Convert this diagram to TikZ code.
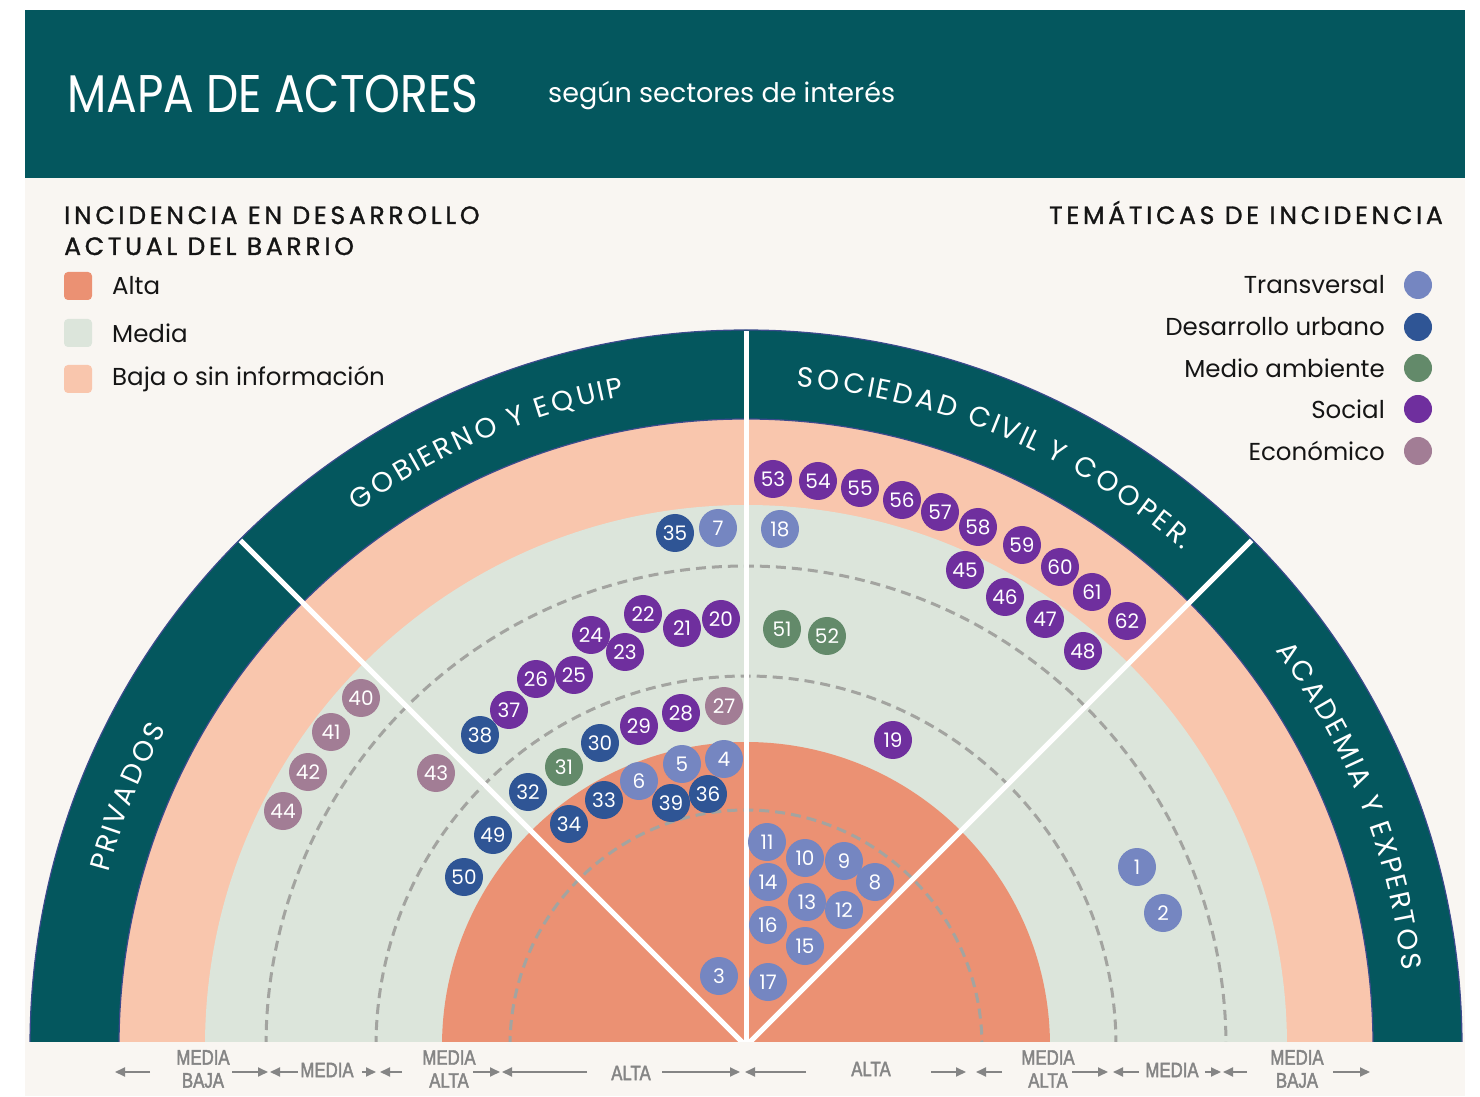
\documentclass[tikz,border=0pt]{standalone}
\usepackage{fontspec}
\setmainfont{Poppins}
\newfontfamily\axisfont[FakeStretch=0.8,FakeBold=2]{Liberation Sans}
\usetikzlibrary{arrows.meta,decorations.text}

\definecolor{headteal}{HTML}{04575E}
\definecolor{bandedge}{HTML}{3B4A8C}
\definecolor{cream}{HTML}{F9F6F2}
\definecolor{alta}{HTML}{EB9173}
\definecolor{media}{HTML}{DCE5DB}
\definecolor{baja}{HTML}{F9C6AD}
\definecolor{trcol}{HTML}{7586C1}
\definecolor{ducol}{HTML}{2F5595}
\definecolor{macol}{HTML}{638A6A}
\definecolor{socol}{HTML}{6F2F9E}
\definecolor{eccol}{HTML}{A27D95}
\definecolor{dashgrey}{HTML}{A3A4A0}
\definecolor{axisgrey}{HTML}{858585}
\definecolor{inkblack}{HTML}{151515}

\newcommand\legtitle{\fontsize{25}{25}\selectfont\addfontfeature{LetterSpace=15,FakeBold=1.2}}
\newcommand\sectorfont{\fontsize{28}{28}\selectfont}

\tikzset{
  actor/.style={circle, fill=#1, minimum size=38pt, inner sep=0pt, text=white,
    font=\fontsize{20}{20}\selectfont},
  ringdash/.style={draw=dashgrey, line width=3pt, dash pattern=on 10pt off 6pt},
  divider/.style={draw=white, line width=5pt},
  bandline/.style={draw=bandedge, line width=1.2pt},
  sectorname/.style={decorate, decoration={text effects along path, text={#1},
    text effects/.cd, text along path, fit text to path,
    characters={text=white, font=\sectorfont}}},
  axarrow/.style={draw=axisgrey, line width=1.8pt, -{Triangle[length=10pt,width=9pt]}},
  axlabel/.style={text=axisgrey, align=center, inner sep=0pt,
    font=\axisfont\fontsize{21}{23}\selectfont},
  legsq/.style={fill=#1, rounded corners=4pt, minimum size=28pt, inner sep=0pt},
  legdot/.style={circle, fill=#1, minimum size=28pt, inner sep=0pt},
  legtext/.style={text=inkblack, inner sep=0pt, font=\fontsize{24.5}{24.5}\selectfont},
}

\begin{document}
\begin{tikzpicture}[x=1pt,y=1pt]
  \useasboundingbox (0,0) rectangle (1480,1096);
  \fill[white] (0,0) rectangle (1480,1096);
  \fill[cream] (25,0) rectangle (1465,918);

  % header
  \fill[headteal] (25,918) rectangle (1465,1086);
  \node[anchor=base west, inner sep=0pt, text=white,
    font=\fontsize{53}{53}\selectfont\addfontfeature{FakeStretch=0.86}]
    (title) at (67,983) {MAPA DE ACTORES};
  \node[anchor=base west, inner sep=0pt, text=white, font=\fontsize{27}{27}\selectfont]
    (subtitle) at (548,993) {según sectores de interés};

  % legend: incidencia
  \node[anchor=base west, inner sep=0pt, text=inkblack, font=\legtitle] (legA) at (64,872) {INCIDENCIA EN DESARROLLO};
  \node[anchor=base west, inner sep=0pt, text=inkblack, font=\legtitle] (legB) at (64,841) {ACTUAL DEL BARRIO};
  \node[legsq=alta]  (sqAlta)  at (78,810) {};
  \node[legsq=media] (sqMedia) at (78,763) {};
  \node[legsq=baja]  (sqBaja)  at (78,717) {};
  \node[legtext, anchor=west] (txAlta)  at (112,810) {Alta};
  \node[legtext, anchor=west] (txMedia) at (112,763) {Media};
  \node[legtext, anchor=west] (txBaja)  at (112,717) {Baja o sin información};

  % legend: tematicas
  \node[anchor=base east, inner sep=0pt, text=inkblack, font=\legtitle] (legT) at (1443,872) {TEMÁTICAS DE INCIDENCIA};
  \foreach \k/\y/\t in {trcol/811/Transversal, ducol/769/Desarrollo urbano,
      macol/728/Medio ambiente, socol/687/Social, eccol/645/Económico} {
    \node[legdot=\k] (d\k) at (1418,\y) {};
    \node[legtext, anchor=east] (t\k) at (1385,\y) {\t};
  }

  % semicircle of sectors
  \coordinate (C) at (746,50);
  \begin{scope}
    \clip (25,55) rectangle (1465,918);
    \fill[headteal] ([shift={(180:716)}]C) arc[start angle=180, end angle=0, radius=716] -- cycle;
    \fill[baja]  ([shift={(180:627)}]C) arc[start angle=180, end angle=0, radius=627] -- cycle;
    \fill[media] ([shift={(180:541)}]C) arc[start angle=180, end angle=0, radius=541] -- cycle;
    \fill[alta]  ([shift={(180:304)}]C) arc[start angle=180, end angle=0, radius=304] -- cycle;
    \draw[bandline] ([shift={(180:716)}]C) arc[start angle=180, end angle=0, radius=716];
    \draw[bandline] ([shift={(180:627)}]C) arc[start angle=180, end angle=0, radius=627];
    \foreach \r in {480,370,236}
      \draw[ringdash] ([shift={(180:\r)}]C) arc[start angle=180, end angle=0, radius=\r];
    \foreach \a in {45,90,135}
      \draw[divider] (C) -- ++(\a:715);
  \end{scope}

  % sector names
  \path[sectorname={PRIVADOS}]
    ([shift={(164.8:661)}]C) arc[start angle=164.8, end angle=151.3, radius=661];
  \path[sectorname={GOBIERNO Y EQUIP}]
    ([shift={(126:661)}]C) arc[start angle=126, end angle=100.6, radius=661];
  \path[sectorname={SOCIEDAD CIVIL Y COOPER.}]
    ([shift={(85.6:661)}]C) arc[start angle=85.6, end angle=48.6, radius=661];
  \path[sectorname={ACADEMIA Y EXPERTOS}]
    ([shift={(36.8:661)}]C) arc[start angle=36.8, end angle=6.5, radius=661];

  % actors
  \foreach \n/\x/\y in {7/718/568, 18/780/567, 4/724/337, 5/682/332, 6/639/315,
      11/767/254, 10/805/238, 9/844/235, 8/875/214, 14/768/214, 13/807/194,
      12/844/186, 16/768/171, 15/805/150, 17/768/114, 3/719/120, 1/1137/229, 2/1163/183}
    \node[actor=trcol] (a\n) at (\x,\y) {\n};
  \foreach \n/\x/\y in {35/675/563, 38/480/361, 30/600/353, 32/528/304, 33/604/296,
      34/569/272, 39/671/293, 36/708/302, 49/493/261, 50/464/219}
    \node[actor=ducol] (a\n) at (\x,\y) {\n};
  \foreach \n/\x/\y in {31/564/329, 51/782/467, 52/827/460}
    \node[actor=macol] (a\n) at (\x,\y) {\n};
  \foreach \n/\x/\y in {53/773/617, 54/818/615, 55/860/608, 56/902/596, 57/940/584,
      58/978/569, 59/1022/551, 60/1060/529, 61/1092/504, 62/1127/475,
      45/965/526, 46/1005/499, 47/1045/477, 48/1083/445,
      22/643/482, 21/682/468, 20/721/477, 24/591/461, 23/625/444,
      26/536/417, 25/574/421, 37/509/386, 29/639/370, 28/681/383, 19/893/356}
    \node[actor=socol] (a\n) at (\x,\y) {\n};
  \foreach \n/\x/\y in {27/724/390, 40/361/398, 41/331/364, 42/308/324, 44/283/285, 43/436/323}
    \node[actor=eccol] (a\n) at (\x,\y) {\n};

  % axis of incidence
  \node[axlabel] (xMB1) at (203,27) {MEDIA\\BAJA};
  \node[axlabel] (xME1) at (327,26) {MEDIA};
  \node[axlabel] (xMA1) at (449,27) {MEDIA\\ALTA};
  \node[axlabel] (xAL1) at (631,23) {ALTA};
  \node[axlabel] (xAL2) at (871,27) {ALTA};
  \node[axlabel] (xMA2) at (1048,27) {MEDIA\\ALTA};
  \node[axlabel] (xME2) at (1172,26) {MEDIA};
  \node[axlabel] (xMB2) at (1297,27) {MEDIA\\BAJA};
  \foreach \s/\e in {150/115, 232/268, 298/270, 362/376, 402/380, 473/500, 587/502, 662/740,
      806/745, 931/966, 1002/976, 1072/1108, 1139/1113, 1205/1221, 1247/1223, 1333/1370}
    \draw[axarrow] (\s,24) -- (\e,24);
\end{tikzpicture}
\end{document}
